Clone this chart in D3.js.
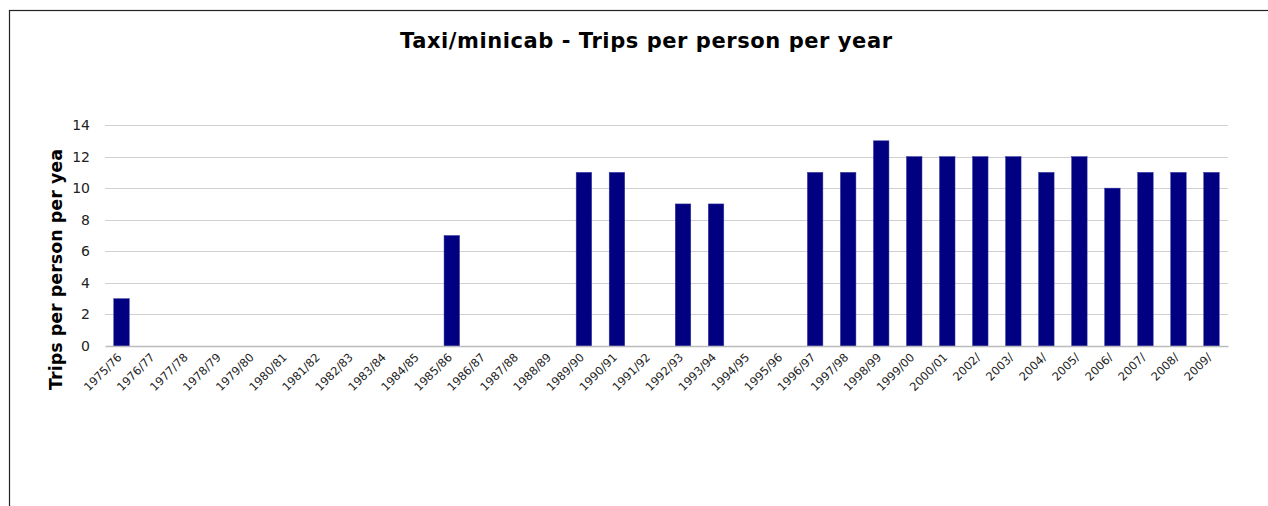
<!DOCTYPE html>
<html>
<head>
<meta charset="utf-8">
<script src="https://cdn.jsdelivr.net/npm/d3@7"></script>
<style>
  body { margin: 0; background: #fff; }
  svg { display: block; }
</style>
</head>
<body>
<div id="chart"></div>
<script>
var years = ["1975/76", "1976/77", "1977/78", "1978/79", "1979/80", "1980/81", "1981/82", "1982/83",
             "1983/84", "1984/85", "1985/86", "1986/87", "1987/88", "1988/89", "1989/90", "1990/91",
             "1991/92", "1992/93", "1993/94", "1994/95", "1995/96", "1996/97", "1997/98", "1998/99",
             "1999/00", "2000/01", "2002/", "2003/", "2004/", "2005/", "2006/", "2007/", "2008/", "2009/"];
var trips = [3, null, null, null, null, null, null, null,
             null, null, 7, null, null, null, 11, 11,
             null, 9, 9, null, null, 11, 11, 13,
             12, 12, 12, 12, 11, 12, 10, 11, 11, 11];
var yTicks = [0, 2, 4, 6, 8, 10, 12, 14];

var svgWidth = 1268;
var svgHeight = 506;
var margin = { top: 125, right: 40, bottom: 160, left: 105 };
var chartWidth = svgWidth - margin.left - margin.right;
var chartHeight = svgHeight - margin.top - margin.bottom;
var font = "'DejaVu Sans', Verdana, sans-serif";

var data = years.map(function(y, i) { return { year: y, value: trips[i] }; });

var svg = d3.select("#chart").append("svg")
            .attr("width", svgWidth)
            .attr("height", svgHeight);

// outer frame (right and bottom run off the page)
svg.append("rect")
   .attr("x", 9.5).attr("y", 10.5)
   .attr("width", svgWidth).attr("height", svgHeight)
   .attr("fill", "none")
   .attr("stroke", "#222")
   .attr("stroke-width", 1.2);

svg.append("text")
   .attr("x", 646)
   .attr("y", 48)
   .attr("text-anchor", "middle")
   .attr("font-family", font)
   .attr("font-weight", "bold")
   .attr("font-size", "21px")
   .attr("textLength", 492)
   .attr("lengthAdjust", "spacing")
   .attr("fill", "#000")
   .text("Taxi/minicab - Trips per person per year");

var chartGroup = svg.append("g")
                    .attr("transform", `translate(${margin.left}, ${margin.top})`);

var x = d3.scaleBand()
          .domain(years)
          .range([0, chartWidth])
          .paddingInner(0.53)
          .paddingOuter(0.265);

var y = d3.scaleLinear()
          .domain([0, 14])
          .range([chartHeight, 0]);

// gridlines
chartGroup.append("g")
          .selectAll("line")
          .data(yTicks.filter(function(t) { return t > 0; }))
          .enter()
          .append("line")
          .attr("x1", 0).attr("x2", chartWidth)
          .attr("y1", d => Math.round(y(d)) + 0.5)
          .attr("y2", d => Math.round(y(d)) + 0.5)
          .attr("stroke", "#d0d0d0")
          .attr("stroke-width", 1);

// y axis labels
var yAxis = chartGroup.append("g")
                      .call(d3.axisLeft(y).tickValues(yTicks).tickSize(0).tickPadding(15));
yAxis.select(".domain").remove();
yAxis.selectAll("text")
     .attr("font-family", font)
     .attr("font-size", "14px")
     .attr("fill", "#222");

// bars
chartGroup.append("g")
          .selectAll("rect")
          .data(data.filter(function(d) { return d.value != null; }))
          .enter()
          .append("rect")
          .attr("x", d => x(d.year))
          .attr("y", d => y(d.value))
          .attr("width", x.bandwidth())
          .attr("height", d => chartHeight - y(d.value))
          .attr("fill", "#000080")
          .attr("stroke", "#3a3aa0")
          .attr("stroke-width", 0.5);

// x axis
var xAxis = chartGroup.append("g")
                      .attr("transform", `translate(0, ${chartHeight})`)
                      .call(d3.axisBottom(x).tickSize(0).tickPadding(0));
xAxis.select(".domain")
     .attr("stroke", "#bbb")
     .attr("stroke-width", 1.5);
xAxis.selectAll("text")
     .attr("font-family", font)
     .attr("font-size", "11.5px")
     .attr("fill", "#222")
     .attr("text-anchor", "end")
     .attr("dy", "0")
     .attr("transform", "translate(1, 12) rotate(-45)");

// y axis title, clipped at the top like the original
svg.append("clipPath")
   .attr("id", "ytitle-clip")
   .append("rect")
   .attr("x", 30).attr("y", 148)
   .attr("width", 50).attr("height", 300);

svg.append("g")
   .attr("clip-path", "url(#ytitle-clip)")
   .append("text")
   .attr("transform", "translate(62, 390) rotate(-90)")
   .attr("text-anchor", "start")
   .attr("font-family", font)
   .attr("font-weight", "bold")
   .attr("font-size", "17.5px")
   .attr("fill", "#000")
   .text("Trips per person per year");
</script>
</body>
</html>
